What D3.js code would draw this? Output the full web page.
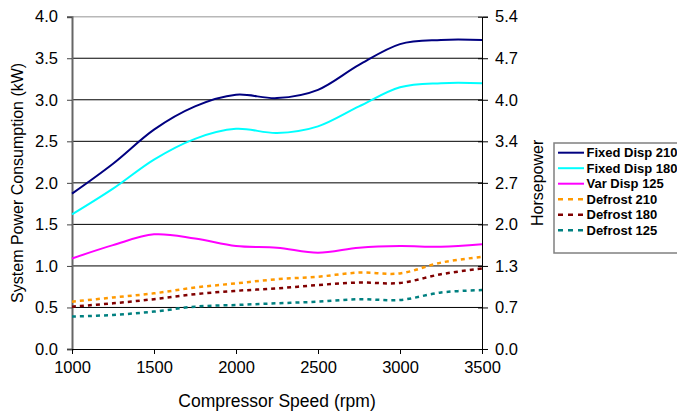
<!DOCTYPE html>
<html>
<head>
<meta charset="utf-8">
<script src="https://cdn.jsdelivr.net/npm/d3@7"></script>
<style>
  body { margin: 0; background: #fff; }
  svg { display: block; font-family: "Liberation Sans", Arial, sans-serif; }
</style>
</head>
<body>
<svg id="chart"></svg>
<script>
const rpm = [1000, 1250, 1500, 1750, 2000, 2250, 2500, 2750, 3000, 3250, 3500];
const fixedDisp210 = [1.87, 2.23, 2.64, 2.92, 3.06, 3.02, 3.12, 3.42, 3.67, 3.72, 3.72];
const fixedDisp180 = [1.62, 1.93, 2.28, 2.53, 2.65, 2.60, 2.68, 2.92, 3.15, 3.20, 3.20];
const varDisp125 = [1.09, 1.25, 1.38, 1.33, 1.24, 1.22, 1.16, 1.22, 1.24, 1.23, 1.26];
const defrost210 = [0.57, 0.62, 0.67, 0.74, 0.79, 0.84, 0.87, 0.92, 0.91, 1.04, 1.11];
const defrost180 = [0.51, 0.55, 0.60, 0.66, 0.70, 0.73, 0.77, 0.80, 0.795, 0.90, 0.97];
const defrost125 = [0.39, 0.41, 0.45, 0.51, 0.53, 0.55, 0.57, 0.60, 0.59, 0.68, 0.71];

const seriesNames = ['Fixed Disp 210', 'Fixed Disp 180', 'Var Disp 125', 'Defrost 210', 'Defrost 180', 'Defrost 125'];
const seriesValues = [fixedDisp210, fixedDisp180, varDisp125, defrost210, defrost180, defrost125];

const xTicks = [1000, 1500, 2000, 2500, 3000, 3500];
const kwTicks = [0, 0.5, 1.0, 1.5, 2.0, 2.5, 3.0, 3.5, 4.0];
const kwToHp = 1.341;

const colors = ['#000080', '#00ffff', '#ff00ff', '#ff9900', '#800000', '#008080'];
const dashed = [false, false, false, true, true, true];

const W = 677, H = 413;
const margin = { top: 16.7, right: 195, bottom: 64, left: 72 };
const width = W - margin.left - margin.right;
const height = H - margin.top - margin.bottom;

const svg = d3.select('#chart').attr('width', W).attr('height', H);
const chart = svg.append('g').attr('transform', `translate(${margin.left},${margin.top})`);

const x = d3.scaleLinear().domain([1000, 3500]).range([0, width]);
const y = d3.scaleLinear().domain([0, 4]).range([height, 0]);
const yHp = d3.scaleLinear().domain([0, 4 * kwToHp]).range([height, 0]);

// grid lines
chart.selectAll('.grid')
  .data(kwTicks.filter(d => d > 0))
  .enter().append('line')
  .attr('class', 'grid')
  .attr('x1', 0).attr('x2', width)
  .attr('y1', d => y(d)).attr('y2', d => y(d))
  .attr('stroke', d => d === 4 ? '#b8b8b8' : '#000')
  .attr('stroke-width', d => d === 4 ? 1.5 : 1);

// left axis
const yAxis = chart.append('g')
  .call(d3.axisLeft(y).tickValues(kwTicks).tickFormat(d3.format('.1f')).tickSize(5).tickPadding(9));
yAxis.select('.domain').attr('stroke', '#666').attr('stroke-width', 2);
yAxis.selectAll('.tick line').attr('stroke', '#444');
yAxis.selectAll('text').style('font-size', '16.5px').attr('fill', '#000');

// right axis (ticks cross the line)
const yAxisR = chart.append('g')
  .attr('transform', `translate(${width},0)`)
  .call(d3.axisRight(yHp).tickValues(kwTicks.map(d => d * kwToHp)).tickFormat(d3.format('.1f')).tickSize(6).tickPadding(7));
yAxisR.select('.domain').attr('stroke', '#000');
yAxisR.selectAll('.tick line').attr('x1', -4).attr('stroke', '#000');
yAxisR.selectAll('text').style('font-size', '16.5px').attr('fill', '#000');

// bottom axis
const xAxis = chart.append('g')
  .attr('transform', `translate(0,${height})`)
  .call(d3.axisBottom(x).tickValues(xTicks).tickFormat(d3.format('d')).tickSize(5).tickPadding(7));
xAxis.select('.domain').attr('stroke', '#000');
xAxis.selectAll('text').style('font-size', '16.5px').attr('fill', '#000');

// axis titles
svg.append('text')
  .attr('x', margin.left + width / 2).attr('y', 407)
  .attr('text-anchor', 'middle').style('font-size', '17.5px')
  .text('Compressor Speed (rpm)');

svg.append('text')
  .attr('transform', `translate(23,${margin.top + height / 2}) rotate(-90)`)
  .attr('text-anchor', 'middle').style('font-size', '16px')
  .text('System Power Consumption (kW)');

svg.append('text')
  .attr('transform', `translate(543,${margin.top + height / 2}) rotate(-90)`)
  .attr('text-anchor', 'middle').style('font-size', '16px')
  .text('Horsepower');

// series
const line = d3.line()
  .curve(d3.curveCatmullRom.alpha(0))
  .x((d, i) => x(rpm[i]))
  .y(d => y(d));

chart.selectAll('.serie')
  .data(seriesValues)
  .enter().append('path')
  .attr('class', 'serie')
  .attr('fill', 'none')
  .attr('stroke', (d, i) => colors[i])
  .attr('stroke-width', (d, i) => dashed[i] ? 2.5 : 2)
  .attr('stroke-dasharray', (d, i) => dashed[i] ? '4,4' : null)
  .attr('d', line);

// legend
const legend = svg.append('g').attr('transform', 'translate(554,143)');
legend.append('rect')
  .attr('x', 0).attr('y', 0).attr('width', 140).attr('height', 110)
  .attr('fill', '#fff').attr('stroke', '#808080').attr('stroke-width', 1.5);

const item = legend.selectAll('.item')
  .data(seriesNames)
  .enter().append('g')
  .attr('class', 'item')
  .attr('transform', (d, i) => `translate(0,${9.7 + i * 15.5})`);

item.append('line')
  .attr('x1', 4).attr('x2', 30)
  .attr('stroke', (d, i) => colors[i])
  .attr('stroke-width', (d, i) => dashed[i] ? 2.5 : 2)
  .attr('stroke-dasharray', (d, i) => dashed[i] ? '5,5' : null);

item.append('text')
  .attr('x', 32.5).attr('y', 4.6)
  .style('font-size', '13px').style('font-weight', 'bold')
  .text(d => d);
</script>
</body>
</html>
